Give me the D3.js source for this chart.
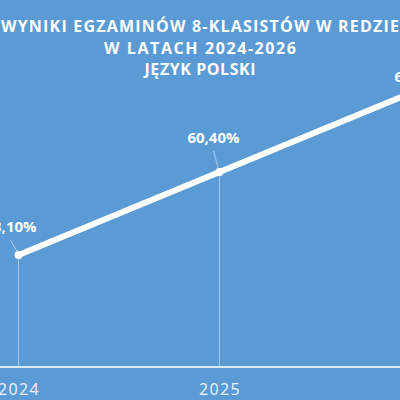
<!DOCTYPE html>
<html><head><meta charset="utf-8">
<script src="https://cdn.jsdelivr.net/npm/d3@7"></script>
<style>html,body{margin:0;padding:0;background:#5b9bd5;overflow:hidden}</style>
</head><body>
<svg id="c" width="400" height="400"></svg>
<script>
const years = ["2024", "2025", "2026"];
const values = [58.10, 60.40, 62.70];
const valueLabels = ["58,10%", "60,40%", "62,70%"];
const titleLines = ["WYNIKI EGZAMINÓW 8-KLASISTÓW W REDZIE", "W LATACH 2024-2026", "JĘZYK POLSKI"];
const yDomain = [55, 65];

const svg = d3.select("#c");
svg.append("rect").attr("width", 400).attr("height", 400).attr("fill", "#5b9bd5");

const x = d3.scalePoint().domain(years).range([18.5, 420.5]);
const y = d3.scaleLinear().domain(yDomain).range([367, 6]);
const data = years.map((yr, i) => ({yr, v: values[i], lab: valueLabels[i]}));

// drop lines
svg.selectAll(".drop").data(data).join("line")
  .attr("x1", d => x(d.yr)).attr("x2", d => x(d.yr))
  .attr("y1", d => y(d.v)).attr("y2", y(yDomain[0]))
  .attr("stroke", "rgba(255,255,255,0.45)").attr("stroke-width", 1);

// x axis
const xAxis = svg.append("g").attr("transform", `translate(0,${y(yDomain[0])})`)
  .call(d3.axisBottom(x).tickSize(0).tickPadding(0));
xAxis.select(".domain").remove();
svg.append("line").attr("x1", 0).attr("x2", 400)
  .attr("y1", y(yDomain[0])).attr("y2", y(yDomain[0]))
  .attr("stroke", "#dce9f6").attr("stroke-width", 2);
xAxis.selectAll("text")
  .attr("y", 28).attr("dy", 0)
  .attr("fill", "#eef4fb")
  .style("font-family", "'Open Sans', sans-serif")
  .style("font-size", "16px")
  .style("letter-spacing", "1.3px");

// line
svg.append("path").datum(data)
  .attr("d", d3.line().x(d => x(d.yr)).y(d => y(d.v)))
  .attr("fill", "none").attr("stroke", "#ffffff")
  .attr("stroke-width", 6).attr("stroke-linecap", "round").attr("stroke-linejoin", "round");
svg.selectAll(".pt").data(data).join("circle")
  .attr("cx", d => x(d.yr)).attr("cy", d => y(d.v)).attr("r", 4)
  .attr("fill", "#ffffff");

// labels and leaders
const labOff = [[-8, -23], [-6, -29], [0, -7]];
svg.selectAll(".leader").data(data.slice(0, 2)).join("line")
  .attr("x1", (d, i) => x(d.yr) + labOff[i][0]).attr("y1", (d, i) => y(d.v) + labOff[i][1] + 8)
  .attr("x2", d => x(d.yr) - 1).attr("y2", d => y(d.v) - 3)
  .attr("stroke", "rgba(255,255,255,0.5)").attr("stroke-width", 1);
svg.selectAll(".lab").data(data).join("text")
  .attr("x", (d, i) => x(d.yr) + labOff[i][0])
  .attr("y", (d, i) => y(d.v) + labOff[i][1])
  .attr("text-anchor", "middle")
  .attr("fill", "#ffffff")
  .style("font-family", "'Open Sans', sans-serif")
  .style("font-weight", "bold")
  .style("font-size", "15px")
  .text(d => d.lab);

// title
const tBase = [32, 54, 75];
const tLen = [398, 192, 111];
svg.selectAll(".title").data(titleLines).join("text")
  .attr("x", 200).attr("y", (d, i) => tBase[i])
  .attr("text-anchor", "middle")
  .attr("textLength", (d, i) => tLen[i]).attr("lengthAdjust", "spacing")
  .attr("fill", "#ffffff")
  .style("font-family", "'Open Sans', sans-serif")
  .style("font-weight", "bold")
  .style("font-size", "16px")
  .text(d => d);
</script>
</body></html>
